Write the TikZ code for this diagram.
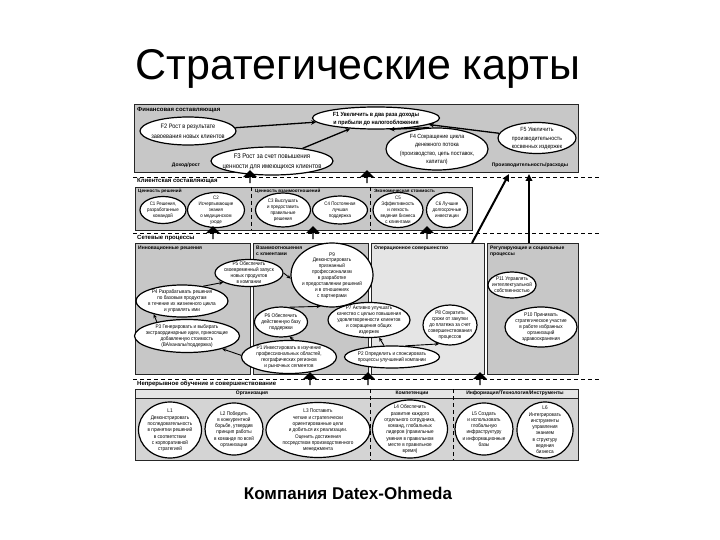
\documentclass[tikz,border=0pt]{standalone}
\usepackage{graphicx}
\usepackage{fontspec}
\setmainfont{Liberation Sans}
\usetikzlibrary{shapes.geometric,shapes.arrows,arrows.meta}
\newcommand\gtext[1]{\smash{\makebox[0pt]{\raisebox{-0.33em}{\scalebox{0.88}[1]{\begin{tabular}{@{}c@{}}#1\end{tabular}}}}}}

\begin{document}
\begin{tikzpicture}[x=1pt, y=-1pt,
  box/.style={draw=black!85, fill=black!22, line width=0.8pt},
  goal/.style={ellipse, draw, fill=white, line width=1.2pt, inner sep=0pt},
  sz/.style 2 args={minimum width=#1, minimum height=#2},
  ftext/.style={font=\fontsize{6}{8.3}\selectfont},
  ctext/.style={font=\fontsize{5}{6}\selectfont},
  ptext/.style={font=\fontsize{5.3}{5.9}\selectfont},
  ltext/.style={font=\fontsize{5.3}{6.3}\selectfont},
  head/.style={font=\bfseries\fontsize{6}{7}\selectfont, anchor=west, inner sep=0pt},
  sub/.style={font=\bfseries\fontsize{5}{6}\selectfont, anchor=north west, inner sep=0pt, align=left},
  sep/.style={line width=0.8pt, dash pattern=on 4pt off 3pt},
  link/.style={-{Stealth[length=4pt,width=3.5pt]}, line width=0.9pt},
  flink/.style={-{Stealth[length=5pt,width=4.5pt]}, line width=1.3pt},
  bigline/.style={-{Triangle[length=7pt,width=6.5pt]}, line width=2pt},
  blockarr/.style={single arrow, fill=black, shape border rotate=90, minimum height=13pt,
    minimum width=14pt, single arrow head extend=2.5pt, inner sep=0pt}
]
\useasboundingbox (0,0) rectangle (720,540);

\node[font=\fontsize{43}{50}\selectfont] (title) at (358,69) {Стратегические карты};
\node[font=\bfseries\fontsize{17}{20}\selectfont] (company) at (348,493) {Компания Datex-Ohmeda};

% financial
\draw[box] (134,104) rectangle (578,172);
\node[head] (finlbl) at (137,110) {Финансовая составляющая};
\node[sub, anchor=center] (growth) at (186,165) {Доход/рост};
\node[sub, anchor=center] (prod) at (530,165) {Производительность/расходы};

\node[goal, sz={127}{22}, font=\bfseries\fontsize{6}{8}\selectfont] (F1) at (376,118)
  {\gtext{F1 Увеличить в два раза доходы\\и прибыли до налогообложения}};
\node[goal, sz={96}{28}, font=\fontsize{6.4}{10}\selectfont] (F2) at (188,131)
  {\gtext{F2 Рост в результате\\завоевания новых клиентов}};
\node[goal, sz={122}{28}, font=\fontsize{6.8}{10}\selectfont] (F3) at (272,161)
  {\gtext{F3 Рост за счет повышения\\ценности для имеющихся клиентов}};
\node[goal, sz={102}{42}, ftext] (F4) at (437,149)
  {\gtext{F4 Сокращение цикла\\денежного потока\\(производство, цепь поставок,\\капитал)}};
\node[goal, sz={78}{31}, ftext] (F5) at (537,138)
  {\gtext{F5 Увеличить\\производительность\\косвенных издержек}};

\draw[flink] (F2) -- (F1);
\draw[flink] (F3) -- (F1);
\draw[flink] (F4.110) -- (F1.-40);
\draw[flink] (F5) -- (F1);

% customer
\draw[sep] (133,177) -- (600,177);
\node[head] (custlbl) at (137,181) {Клиентская составляющая};
\draw[box] (135,187) rectangle (472,230);
\draw[sep] (251,187) -- (251,230);
\draw[sep] (370,187) -- (370,230);
\node[sub, font=\bfseries\fontsize{4.6}{5.5}\selectfont] (cval) at (138,189) {Ценность решений};
\node[sub, font=\bfseries\fontsize{4.6}{5.5}\selectfont] (crel) at (255,189) {Ценность взаимоотношений};
\node[sub, font=\bfseries\fontsize{4.6}{5.5}\selectfont] (cecon) at (374,189) {Экономическая стоимость};

\node[goal, sz={46}{27}, ctext] (C1) at (163,210) {\gtext{C1 Решения,\\разработанные\\командой}};
\node[goal, sz={57}{35}, ctext] (C2) at (216,210) {\gtext{C2\\Исчерпывающие\\знания\\о медицинском\\уходе}};
\node[goal, sz={55}{34}, ctext] (C3) at (283,210) {\gtext{C3 Выслушать\\и предоставить\\правильные\\решения}};
\node[goal, sz={55}{28}, ctext] (C4) at (340,210) {\gtext{C4 Постоянная\\лучшая\\поддержка}};
\node[goal, sz={50}{35}, ctext] (C5) at (398,210) {\gtext{C5\\Эффективность\\и легкость\\ведения бизнеса\\с клиентами}};
\node[goal, sz={41}{35}, ctext] (C6) at (447,210) {\gtext{C6 Лучшие\\долгосрочные\\инвестиции}};

% processes
\draw[sep] (133,233) -- (600,233);
\node[head] (proclbl) at (137,238) {Сетевые процессы};
\draw[box] (135,243) rectangle (250,374);
\draw[box] (253,243) rectangle (368,374);
\draw[box, fill=black!10] (371,243) rectangle (484,374);
\draw[box] (487,243) rectangle (578,374);
\node[sub] (innov) at (138,246) {Инновационные решения};
\node[sub] (relat) at (256,246) {Взаимоотношения\\с клиентами};
\node[sub] (oper) at (374,246) {Операционное совершенство};
\node[sub] (regul) at (490,246) {Регулирующие и социальные\\процессы};

\node[goal, sz={68}{27}, ptext] (P5) at (249,273) {\gtext{P5 Обеспечить\\своевременный запуск\\новых продуктов\\в компании}};
\node[goal, sz={82}{64}, ptext] (P9) at (332,275) {\gtext{P9\\Демонстрировать\\признанный\\профессионализм\\в разработке\\и предоставлении решений\\и в отношениях\\с партнерами}};
\node[goal, sz={92}{32}, ptext] (P4) at (182,301) {\gtext{P4 Разрабатывать решения\\по базовым продуктам\\в течение их жизненного цикла\\и управлять ими}};
\node[goal, sz={105}{33}, ptext] (P3) at (187,336) {\gtext{P3 Генерировать и выбирать\\экстраординарные идеи, приносящие\\добавленную стоимость\\(ВА/каналы/поддержка)}};
\node[goal, sz={53}{30}, ptext] (P6) at (281,322) {\gtext{P6 Обеспечить\\действенную базу\\поддержки}};
\node[goal, sz={95}{33}, ptext] (P1) at (289,357) {\gtext{P1 Инвестировать в изучение\\профессиональных областей,\\географических регионов\\и рыночных сегментов}};
\node[goal, sz={82}{35}, ptext] (P7) at (369,320) {\gtext{P7 Активно улучшать\\качество с целью повышения\\удовлетворенности клиентов\\и сокращения общих\\издержек}};
\node[goal, sz={54}{40}, ptext] (P8) at (450,325) {\gtext{P8 Сократить\\сроки от закупки\\до платежа за счет\\совершенствования\\процессов}};
\node[goal, sz={95}{22}, ptext] (P2) at (392,357) {\gtext{P2 Определить и спонсировать\\процессы улучшений компании}};
\node[goal, sz={48}{26}, ptext] (P11) at (512,285) {\gtext{P11 Управлять\\интеллектуальной\\собственностью}};
\node[goal, sz={72}{40}, ptext] (P10) at (541,327) {\gtext{P10 Принимать\\стратегическое участие\\в работе избранных\\организаций\\здравоохранения}};

\draw[link] (P3.155) -- (P4.205);
\draw[link] (P4.35) -- (P5.200);
\draw[link] (P5.east) -- (P9.185);
\draw[link] (P1.178) -- (P3.-20);
\draw[link] (P1.75) -- (P6.-60);
\draw[link] (P6.60) -- (P9.-110);
\draw[link] (P2.125) -- (P7.-60);
\draw[link] (P2.40) -- (P8.-120);

% learning
\draw[sep] (133,379) -- (600,379);
\node[head] (learnlbl) at (137,384) {Непрерывное обучение и совершенствование};
\draw[box, fill=black!17] (135,389) rectangle (578,460);
\draw[box, fill=black!10] (135,389) rectangle (578,398);
\draw[sep] (370,389) -- (370,460);
\draw[sep] (453,389) -- (453,460);
\node[sub, anchor=center] (org) at (252,393.5) {Организация};
\node[sub, anchor=center] (comp) at (412,393.5) {Компетенции};
\node[sub, anchor=center] (info) at (515,393.5) {Информация/Технология/Инструменты};

\node[goal, sz={63}{56}, ltext] (L1) at (170,430) {\gtext{L1\\Демонстрировать\\последовательность\\в принятии решений\\в соответствии\\с корпоративной\\стратегией}};
\node[goal, sz={58}{52}, ltext] (L2) at (234,429) {\gtext{L2 Победить\\в конкурентной\\борьбе, утвердив\\принцип работы\\в команде по всей\\организации}};
\node[goal, sz={104}{55}, ltext] (L3) at (318,430) {\gtext{L3 Поставить\\четкие и стратегически\\ориентированные цели\\и добиться их реализации.\\Оценить достижения\\посредством производственного\\менеджмента}};
\node[goal, sz={75}{58}, ltext] (L4) at (410,429) {\gtext{L4 Обеспечить\\развитие каждого\\отдельного сотрудника,\\команд, глобальных\\лидеров (правильные\\умения в правильном\\месте в правильное\\время)}};
\node[goal, sz={58}{52}, ltext] (L5) at (484,429) {\gtext{L5 Создать\\и использовать\\глобальную\\инфраструктуру\\и информационные\\базы}};
\node[goal, sz={56}{56}, ltext] (L6) at (545,430) {\gtext{L6\\Интегрировать\\инструменты\\управления\\знанием\\в структуру\\ведения\\бизнеса}};

% between perspectives
\node[blockarr] (up1) at (250,177) {};
\node[blockarr] (up2) at (367,177) {};
\node[blockarr] (up3) at (213,233) {};
\node[blockarr] (up4) at (313,233) {};
\node[blockarr] (up5) at (427,233) {};
\node[blockarr] (up6) at (310,379) {};
\node[blockarr] (up7) at (368,379) {};
\node[blockarr] (up8) at (480,379) {};

\coordinate (operTop) at (472,243);
\coordinate (regTop) at (529,243);
\coordinate (prodA) at (509,174);
\coordinate (prodB) at (529,174);
\draw[bigline] (operTop) -- (prodA);
\draw[bigline] (regTop) -- (prodB);
\end{tikzpicture}
\end{document}
